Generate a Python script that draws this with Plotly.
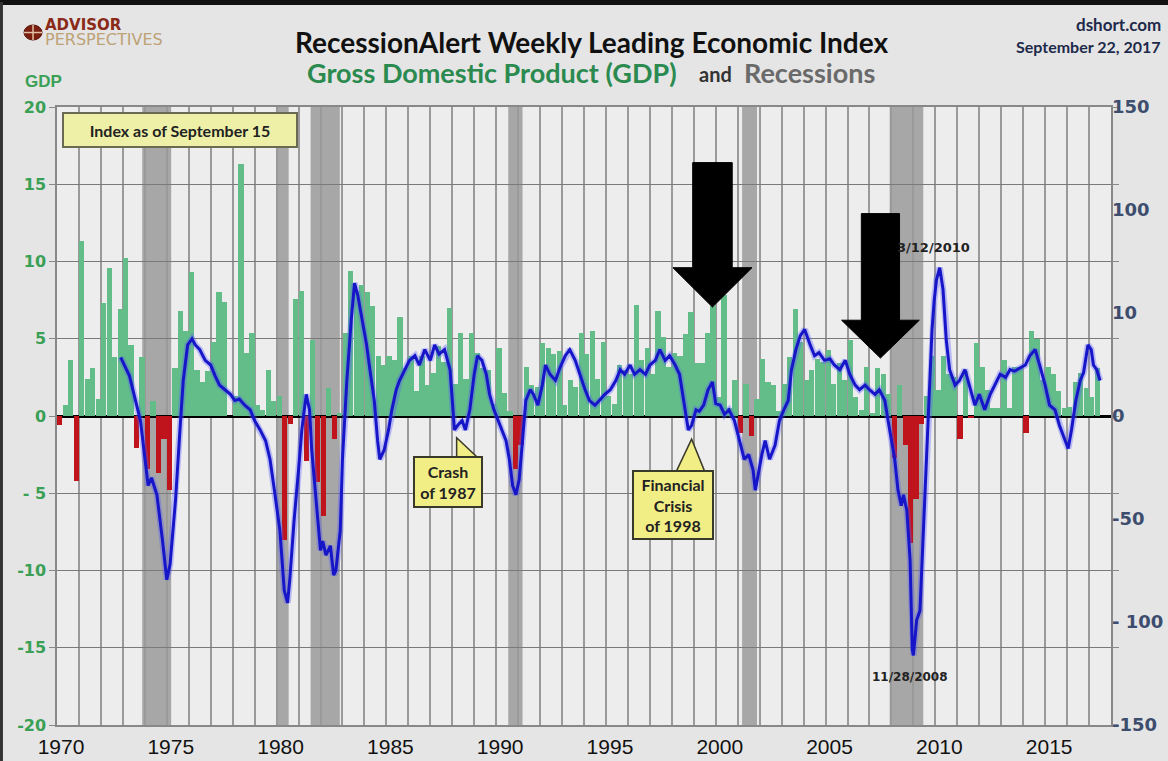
import plotly.graph_objects as go

# ---------------- data ----------------
gdp_start_year = 1970
gdp_values = [
    -0.6, 0.7, 3.6, -4.2,
    11.3, 2.4, 3.1, 1.1,
    7.3, 9.6, 3.8, 6.9,
    10.2, 4.6, -2.1, 3.8,
    -3.4, 1.0, -3.7, -1.5,
    -4.8, 3.1, 6.8, 5.5,
    9.3, 3.0, 2.2, 2.9,
    4.8, 8.0, 7.4, 0.0,
    1.3, 16.3, 4.1, 5.4,
    0.7, 0.4, 3.0, 1.0,
    1.3, -8.0, -0.5, 7.6,
    8.1, -2.9, 4.9, -4.3,
    -6.5, 1.8, -1.5, 0.2,
    5.4, 9.4, 8.1, 8.5,
    8.0, 7.1, 3.9, 3.3,
    3.9, 3.6, 6.4, 3.1,
    3.9, 1.6, 3.9, 2.0,
    2.8, 4.5, 3.5, 7.0,
    2.1, 5.4, 2.4, 5.4,
    4.1, 3.1, 3.0, 0.8,
    4.4, 1.5, 0.3, -3.4,
    -1.9, 3.2, 2.0, 1.9,
    4.7, 4.4, 4.0, 4.2,
    0.7, 2.3, 1.9, 5.4,
    4.0, 5.5, 2.4, 4.8,
    1.3, 0.8, 3.3, 3.0,
    2.7, 7.2, 3.6, 4.4,
    2.7, 6.8, 5.1, 3.2,
    4.1, 3.9, 5.3, 6.7,
    3.4, 3.4, 5.4, 7.1,
    1.2, 7.8, 0.5, 2.3,
    -1.1, 2.1, -1.3, 1.1,
    3.7, 2.2, 2.0, 0.3,
    2.1, 3.8, 6.9, 4.8,
    2.3, 3.0, 3.7, 3.5,
    4.3, 2.1, 3.4, 2.3,
    4.9, 1.2, 0.4, 3.2,
    0.2, 3.1, 2.7, 1.4,
    -2.7, 2.0, -1.9, -8.2,
    -5.4, -0.5, 1.3, 3.9,
    1.7, 3.9, 2.7, 2.5,
    -1.5, 2.9, -0.1, 4.7,
    3.2, 1.7, 0.5, 0.5,
    3.6, 0.5, 3.2, 3.2,
    -1.1, 5.5, 5.0, 2.3,
    3.2, 2.7, 1.6, 0.5,
    0.6, 2.2, 2.8, 1.8,
    1.2, 3.1,
]

# Weekly leading index (plotted in left-axis units)
idx_years = [
    1972.9, 1973.3, 1973.8, 1974.0, 1974.15, 1974.3, 1974.55, 1974.8, 1975.0, 1975.15,
    1975.4, 1975.6, 1975.75, 1975.95, 1976.15, 1976.3, 1976.5, 1976.75, 1977.0, 1977.2,
    1977.4, 1977.65, 1977.9, 1978.1, 1978.3, 1978.55, 1978.8, 1979.0, 1979.25, 1979.5,
    1979.7, 1979.9, 1980.15, 1980.35, 1980.5, 1980.6, 1980.8, 1981.0, 1981.15, 1981.35,
    1981.5, 1981.6, 1981.8, 1982.0, 1982.1, 1982.25, 1982.45, 1982.6, 1982.7, 1982.9,
    1983.0, 1983.2, 1983.4, 1983.55, 1983.7, 1983.9, 1984.1, 1984.25, 1984.45, 1984.6,
    1984.7, 1984.9, 1985.1, 1985.25, 1985.45, 1985.6, 1985.85, 1986.05, 1986.3, 1986.5,
    1986.75, 1987.0, 1987.2, 1987.4, 1987.65, 1987.9, 1988.1, 1988.25, 1988.45, 1988.6,
    1988.8, 1989.0, 1989.15, 1989.35, 1989.55, 1989.7, 1989.9, 1990.1, 1990.25, 1990.45,
    1990.6, 1990.75, 1990.9, 1991.05, 1991.2, 1991.35, 1991.55, 1991.7, 1991.9, 1992.1,
    1992.25, 1992.45, 1992.7, 1992.9, 1993.15, 1993.35, 1993.6, 1993.8, 1994.05, 1994.25,
    1994.5, 1994.7, 1994.95, 1995.2, 1995.45, 1995.65, 1995.85, 1996.1, 1996.3, 1996.55,
    1996.8, 1997.0, 1997.25, 1997.45, 1997.7, 1997.9, 1998.15, 1998.35, 1998.55, 1998.75,
    1998.9, 1999.1, 1999.25, 1999.45, 1999.65, 1999.85, 2000.0, 2000.2, 2000.4, 2000.6,
    2000.85, 2001.1, 2001.3, 2001.5, 2001.7, 2001.8, 2001.9, 2002.1, 2002.25, 2002.45,
    2002.7, 2002.9, 2003.1, 2003.3, 2003.45, 2003.65, 2003.85, 2004.05, 2004.3, 2004.5,
    2004.7, 2004.95, 2005.2, 2005.4, 2005.65, 2005.9, 2006.1, 2006.35, 2006.55, 2006.8,
    2007.0, 2007.25, 2007.45, 2007.7, 2007.85, 2008.0, 2008.15, 2008.3, 2008.45, 2008.55,
    2008.7, 2008.85, 2008.95, 2009.0, 2009.15, 2009.3, 2009.4, 2009.55, 2009.7, 2009.85,
    2009.95, 2010.05, 2010.2, 2010.35, 2010.5, 2010.65, 2010.9, 2011.1, 2011.35, 2011.55,
    2011.8, 2012.0, 2012.25, 2012.5, 2012.7, 2012.95, 2013.2, 2013.4, 2013.6, 2013.85,
    2014.1, 2014.3, 2014.55, 2014.75, 2015.0, 2015.2, 2015.45, 2015.65, 2015.9, 2016.05,
    2016.2, 2016.4, 2016.6, 2016.75, 2016.95, 2017.1, 2017.2, 2017.35, 2017.5,
]
idx_values = [
    3.8, 2.6, -0.3, -2.8, -4.5, -4.0, -5.1, -8.0, -10.6, -9.6,
    -5.4, -0.9, 2.3, 4.6, 5.0, 4.6, 4.3, 3.6, 3.3, 2.6,
    2.0, 1.7, 1.4, 1.0, 1.1, 0.7, 0.4, -0.3, -0.9, -1.6,
    -2.8, -4.8, -7.4, -11.3, -12.1, -10.6, -6.7, -3.5, -0.9, 1.4,
    0.4, -2.2, -5.4, -8.7, -8.1, -9.0, -8.4, -10.3, -10.0, -7.4,
    -2.8, 2.3, 6.2, 8.6, 7.8, 6.2, 4.6, 3.0, 1.0, -1.6,
    -2.8, -2.2, -0.9, 0.4, 1.7, 2.3, 3.0, 3.6, 3.9, 3.3,
    4.3, 3.6, 4.6, 4.0, 4.3, 3.0, -0.9, -0.6, -0.3, -0.9,
    0.4, 2.7, 3.9, 3.6, 2.7, 1.4, 0.4, -0.3, -0.9, -1.6,
    -2.8, -4.5, -5.1, -4.1, -1.6, 1.0, 1.7, 1.4, 0.7, 2.0,
    3.3, 2.7, 2.3, 3.1, 3.9, 4.3, 3.6, 2.7, 1.7, 1.0,
    0.7, 1.0, 1.4, 1.7, 2.3, 3.0, 2.7, 3.3, 2.7, 3.0,
    2.7, 3.3, 3.6, 4.3, 3.6, 3.9, 3.3, 2.7, 1.0, -0.9,
    -0.6, 0.4, 0.3, 0.7, 1.7, 2.2, 0.8, 0.7, 0.1, 0.4,
    -0.3, -1.6, -2.8, -2.5, -3.5, -4.8, -4.0, -2.5, -1.6, -2.8,
    -1.9, -0.3, 0.4, 1.0, 3.0, 4.3, 5.2, 5.6, 4.6, 3.9,
    4.1, 3.6, 3.7, 3.3, 3.0, 3.6, 2.7, 2.0, 1.7, 2.0,
    1.7, 1.4, 1.7, 1.0, -0.3, -1.6, -2.8, -4.8, -5.8, -5.1,
    -6.1, -9.3, -15.1, -15.5, -13.2, -12.6, -9.3, -4.1, 1.0, 5.6,
    7.5, 8.8, 9.6, 8.2, 4.9, 3.0, 2.0, 2.3, 3.0, 2.0,
    0.7, 1.4, 0.4, 1.4, 2.0, 2.7, 2.5, 3.0, 2.9, 3.1,
    3.3, 3.9, 4.3, 3.3, 2.0, 0.7, 0.4, -0.6, -1.6, -2.1,
    -0.9, 1.0, 2.3, 2.8, 4.6, 4.3, 3.3, 3.0, 2.3,
]

rec_start = [1973.88, 1980.0, 1981.55, 1990.55, 2001.2, 2007.92]
rec_end = [1975.2, 1980.55, 1982.88, 1991.2, 2001.88, 2009.45]

x_tick_years = [1970, 1975, 1980, 1985, 1990, 1995, 2000, 2005, 2010, 2015]
y_left_ticks = [20, 15, 10, 5, 0, -5, -10, -15, -20]
y_left_text = ["20", "15", "10", "5", "0", "- 5", "-10", "-15", "-20"]
y_right_text = ["150", "100", "10", "0", "-50", "- 100", "-150"]

# ---------------- styling ----------------
GREEN = "#62bd88"
RED = "#c0141c"
BLUE = "#1616c8"
GRID = "#9a9a9a"
PAPER = "#e5e5e5"
PLOT = "#ededed"
TITLE_FONT = "Lato, 'Open Sans', sans-serif"
AX_FONT = "'Liberation Sans', Arial, sans-serif"
DEJAVU = "'DejaVu Sans', sans-serif"

quarter_x = [gdp_start_year + i * 0.25 + 0.125 for i in range(len(gdp_values))]
bar_colors = [GREEN if v >= 0 else RED for v in gdp_values]

fig = go.Figure()

fig.add_trace(go.Bar(
    x=quarter_x, y=gdp_values, width=0.24,
    marker=dict(color=bar_colors, line=dict(width=0)),
    name="GDP", showlegend=False, hoverinfo="x+y",
))

# glow + line for the index
fig.add_trace(go.Scatter(
    x=idx_years, y=idx_values, mode="lines",
    line=dict(color="rgba(90,90,255,0.35)", width=6.5),
    showlegend=False, hoverinfo="skip",
))
fig.add_trace(go.Scatter(
    x=idx_years, y=idx_values, mode="lines",
    line=dict(color=BLUE, width=3),
    name="Index", showlegend=False,
))

# dummy trace to activate right axis
fig.add_trace(go.Scatter(x=[1970], y=[0], yaxis="y2", mode="markers",
                         marker=dict(opacity=0), showlegend=False, hoverinfo="skip"))

shapes = []
for s, e in zip(rec_start, rec_end):
    shapes.append(dict(type="rect", xref="x", yref="y", x0=s, x1=e, y0=-20, y1=20,
                       fillcolor="#a7a7a7", line=dict(width=0), layer="below"))

# big black arrows (data coords)
def down_arrow(xc, shaft_half, head_half, y_top, y_base, y_tip):
    return dict(type="path", xref="x", yref="y",
                path=(f"M {xc-shaft_half} {y_top} L {xc+shaft_half} {y_top} "
                      f"L {xc+shaft_half} {y_base} L {xc+head_half} {y_base} "
                      f"L {xc} {y_tip} L {xc-head_half} {y_base} "
                      f"L {xc-shaft_half} {y_base} Z"),
                fillcolor="black", line=dict(color="black", width=1), layer="above")

shapes.append(down_arrow(1999.85, 0.9, 1.8, 16.4, 9.6, 7.05))
shapes.append(down_arrow(2007.5, 0.87, 1.77, 13.1, 6.2, 3.75))

# callout tails
shapes.append(dict(type="path", xref="x", yref="y",
                   path="M 1988.2 -1.4 L 1988.2 -2.75 L 1989.2 -2.75 Z",
                   fillcolor="#f2ee86", line=dict(color="#3a3a2a", width=1.5), layer="above"))
shapes.append(dict(type="path", xref="x", yref="y",
                   path="M 1998.9 -1.5 L 1998.2 -3.6 L 1999.5 -3.6 Z",
                   fillcolor="#f2ee86", line=dict(color="#3a3a2a", width=1.5), layer="above"))

# frame
shapes.append(dict(type="line", xref="paper", yref="paper", x0=-0.06, x1=1.06,
                   y0=1.169, y1=1.169, line=dict(color="#111", width=5)))
shapes.append(dict(type="line", xref="paper", yref="paper", x0=-0.0527, x1=-0.0527,
                   y0=1.17, y1=-0.07, line=dict(color="#333", width=3)))
# logo circle
shapes.append(dict(type="circle", xref="paper", yref="paper",
                   x0=-0.0313, x1=-0.0142, y0=1.1084, y1=1.1327,
                   fillcolor="#7a1e12", line=dict(color="#5a1408", width=1)))
shapes.append(dict(type="line", xref="paper", yref="paper", x0=-0.02275, x1=-0.02275,
                   y0=1.1084, y1=1.1327, line=dict(color="#e0c0a0", width=1.5)))
shapes.append(dict(type="line", xref="paper", yref="paper", x0=-0.0313, x1=-0.0142,
                   y0=1.1205, y1=1.1205, line=dict(color="#e0c0a0", width=1.5)))

annotations = [
    dict(text="<b>RecessionAlert Weekly Leading Economic Index</b>", xref="paper", yref="paper",
         x=0.5076, y=1.1052, xanchor="center", yanchor="middle", showarrow=False,
         font=dict(family=TITLE_FONT, size=28, color="#111")),
    dict(text="<b>Gross Domestic Product (GDP)</b>", xref="paper", yref="paper",
         x=0.2353, y=1.0566, xanchor="left", yanchor="middle", showarrow=False,
         font=dict(family=TITLE_FONT, size=27, color="#2b8a4f")),
    dict(text="<b>and</b>", xref="paper", yref="paper",
         x=0.607, y=1.0540, xanchor="left", yanchor="middle", showarrow=False,
         font=dict(family=TITLE_FONT, size=20, color="#333")),
    dict(text="<b>Recessions</b>", xref="paper", yref="paper",
         x=0.650, y=1.0566, xanchor="left", yanchor="middle", showarrow=False,
         font=dict(family=TITLE_FONT, size=27, color="#6a6a6a")),
    dict(text="<b>ADVISOR</b>", xref="paper", yref="paper",
         x=-0.0133, y=1.1330, xanchor="left", yanchor="middle", showarrow=False,
         font=dict(family=DEJAVU, size=15, color="#8a2a18")),
    dict(text="PERSPECTIVES", xref="paper", yref="paper",
         x=-0.0133, y=1.1095, xanchor="left", yanchor="middle", showarrow=False,
         font=dict(family=DEJAVU, size=16, color="#bda276")),
    dict(text="<b>dshort.com</b>", xref="paper", yref="paper",
         x=1.0493, y=1.1327, xanchor="right", yanchor="middle", showarrow=False,
         font=dict(family=TITLE_FONT, size=17, color="#1e2a4a")),
    dict(text="<b>September 22, 2017</b>", xref="paper", yref="paper",
         x=1.0493, y=1.0987, xanchor="right", yanchor="middle", showarrow=False,
         font=dict(family=TITLE_FONT, size=16, color="#1e2a4a")),
    dict(text="<b>GDP</b>", xref="paper", yref="paper",
         x=-0.0323, y=1.0413, xanchor="left", yanchor="middle", showarrow=False,
         font=dict(family=AX_FONT, size=17, color="#3aa055")),
    dict(text="<b>Index as of September 15</b>", xref="x", yref="y",
         x=1975.6, y=18.5, xanchor="center", yanchor="middle", showarrow=False,
         width=230, height=30, bgcolor="#eef0a8", bordercolor="#6a6a52", borderwidth=2,
         font=dict(family=TITLE_FONT, size=16, color="#222")),
    dict(text="<b>Crash<br>of 1987</b>", xref="x", yref="y",
         x=1987.8, y=-4.3, xanchor="center", yanchor="middle", showarrow=False,
         width=64, height=46, bgcolor="#f2ee86", bordercolor="#3a3a2a", borderwidth=2,
         font=dict(family=TITLE_FONT, size=16, color="#222")),
    dict(text="<b>Financial<br>Crisis<br>of 1998</b>", xref="x", yref="y",
         x=1998.05, y=-5.75, xanchor="center", yanchor="middle", showarrow=False,
         width=76, height=64, bgcolor="#f2ee86", bordercolor="#3a3a2a", borderwidth=2,
         font=dict(family=TITLE_FONT, size=16, color="#222")),
    dict(text="<b>3/12/2010</b>", xref="x", yref="y",
         x=2009.9, y=10.9, xanchor="center", yanchor="middle", showarrow=False,
         font=dict(family=DEJAVU, size=13, color="#222")),
    dict(text="<b>11/28/2008</b>", xref="x", yref="y",
         x=2008.85, y=-16.9, xanchor="center", yanchor="middle", showarrow=False,
         font=dict(family=DEJAVU, size=12, color="#222")),
]

fig.update_layout(
    width=1168, height=761,
    margin=dict(l=57, r=57, t=107, b=36, autoexpand=False),
    paper_bgcolor=PAPER, plot_bgcolor=PLOT,
    bargap=0, showlegend=False,
    shapes=shapes, annotations=annotations,
    xaxis=dict(
        range=[1970, 2018], tickvals=x_tick_years, ticktext=[str(y) for y in x_tick_years],
        automargin=False,
        showgrid=True, gridcolor=GRID, gridwidth=1.5,
        minor=dict(tick0=1970, dtick=1, showgrid=True, gridcolor=GRID, gridwidth=1.5),
        showline=True, linecolor="#888", linewidth=1.5, mirror=True,
        ticks="", ticklabelstandoff=2, ticklabelshift=4,
        tickfont=dict(family=AX_FONT, size=21, color="#111"),
        zeroline=False,
    ),
    yaxis=dict(
        range=[-20, 20], tickvals=y_left_ticks, ticktext=y_left_text,
        automargin=False,
        showgrid=True, gridcolor="#7a7a7a", gridwidth=1,
        zeroline=True, zerolinecolor="#000", zerolinewidth=2.5,
        showline=True, linecolor="#888", linewidth=1.5, mirror="ticks",
        ticks="outside", ticklen=6, tickcolor="#888", tickwidth=1,
        ticklabelstandoff=0,
        tickfont=dict(family=DEJAVU, size=16, color="#3aa055", weight="bold"),
    ),
    yaxis2=dict(
        range=[-20, 20], overlaying="y", side="right",
        automargin=False,
        tickvals=[20, 13.333, 6.667, 0, -6.667, -13.333, -20], ticktext=y_right_text,
        showgrid=False, zeroline=False, showline=False, ticks="",
        ticklabelstandoff=0,
        tickfont=dict(family=DEJAVU, size=18, color="#3d4d6e", weight="bold"),
    ),
)

fig.write_html("out.html", config={"displayModeBar": False},
               post_script="document.body.style.margin='0';")
